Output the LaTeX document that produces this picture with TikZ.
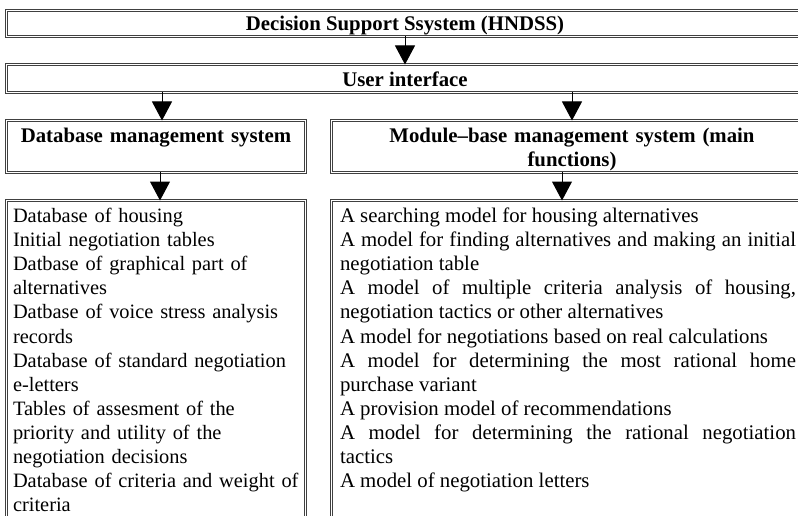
\documentclass[tikz,border=0pt]{standalone}
\usepackage{fontspec}
\setmainfont{Liberation Serif}
\usetikzlibrary{arrows.meta}

\begin{document}
\begin{tikzpicture}[x=1pt,y=-1pt,
  dbox/.style={draw=black!75, double, double distance=1.5pt, line width=1pt,
    outer sep=0pt, inner ysep=5pt, anchor=north west,
    font=\fontsize{20.8}{24.1}\selectfont},
  headbox/.style={dbox, font=\fontsize{20.8}{24.1}\selectfont\bfseries},
  flowarrow/.style={line width=1pt, -{Triangle[width=20pt,length=19pt]}}]
\useasboundingbox (0,0) rectangle (798,516);
\clip (0,0) rectangle (798,516);
\node[headbox, minimum width=797pt, text height=15pt, text depth=1pt] (hndss) at (6.5,10.5) {Decision Support Ssystem (HNDSS)};
\node[headbox, minimum width=797pt, text height=17pt, text depth=1pt] (ui) at (6.5,64.5) {User interface};
\node[headbox, inner xsep=4.5pt, inner ysep=6pt, text width=290pt, align=center, text height=16pt, text depth=24pt] (dbms) at (6.5,120.5) {Database management system};
\node[headbox, inner xsep=4.5pt, inner ysep=6pt, text width=472pt, align=center, text height=16pt, text depth=24pt] (mbms) at (331.5,120.5) {Module–base management system (main\\functions)};
\node[dbox, font=\fontsize{20.4}{24.1}\selectfont, inner xsep=6.5pt, inner ysep=6pt, text width=286pt, align=left, text height=16pt, text depth=400pt] (dblist) at (6.5,200.5) {Database of housing\\
Initial negotiation tables\\
Datbase of graphical part of\\
alternatives\\
Datbase of voice stress analysis\\
records\\
Database of standard negotiation\\
e-letters\\
Tables of assesment of the\\
priority and utility of the\\
negotiation decisions\\
Database of criteria and weight of\\
criteria};
\node[dbox, inner xsep=8.5pt, inner ysep=6pt, text width=456pt, align=justify, text height=16pt, text depth=400pt] (modlist) at (331.5,200.5) {A searching model for housing alternatives\par
A model for finding alternatives and making an initial\linebreak negotiation table\par
A model of multiple criteria analysis of housing,\linebreak negotiation tactics or other alternatives\par
A model for negotiations based on real calculations\par
A model for determining the most rational home\linebreak purchase variant\par
A provision model of recommendations\par
A model for determining the rational negotiation\linebreak tactics\par
A model of negotiation letters};
\draw[flowarrow] (hndss.south) -- (ui.north);
\draw[flowarrow] ([xshift=6pt]dbms.north |- ui.south) -- ([xshift=6pt]dbms.north);
\draw[flowarrow] (mbms.north |- ui.south) -- (mbms.north);
\draw[flowarrow] ([xshift=4pt]dbms.south) -- ([xshift=4pt]dblist.north);
\draw[flowarrow] ([xshift=-6pt]modlist.north |- mbms.south) -- ([xshift=-6pt]modlist.north);
\end{tikzpicture}
\end{document}
